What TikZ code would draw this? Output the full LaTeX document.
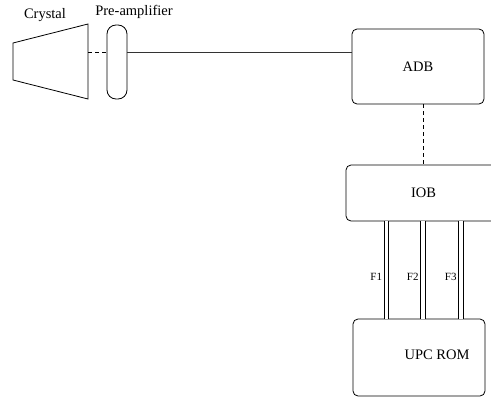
\documentclass[tikz,border=0pt]{standalone}
\usepackage{fontspec}
\setmainfont{Liberation Serif}
\usetikzlibrary{calc}

\begin{document}
\begin{tikzpicture}[x=1pt,y=-1pt,line width=0.8pt,
  box/.style={draw,rounded corners=5pt,inner sep=0pt,font=\fontsize{14.5}{17}\selectfont},
  lbl/.style={font=\fontsize{14.5}{17}\selectfont},
  bus/.style={double,double distance=3.5pt},
  link/.style={dash pattern=on 4pt off 3pt}]
\clip (0,0) rectangle (491,399);
% crystal and pre-amplifier
\draw (13,43) -- (88,24) -- (88,99) -- (13,80) -- cycle;
\coordinate (cr) at (88,52);
\node[draw,rounded corners=9pt,minimum width=20pt,minimum height=74pt,inner sep=0pt] (pre) at (117,62) {};
\node[lbl] (crlbl) at (45,15) {Crystal};
\node[lbl] (prelbl) at (134,12) {Pre-amplifier};
% boxes
\node[box,minimum width=132pt,minimum height=75pt] (adb) at (418,66.5) {ADB};
\node[box,minimum width=155pt,minimum height=56pt] (iob) at (423.5,193) {IOB};
\node[box,minimum width=132pt,minimum height=77pt] (upc) at (419,357.5) {};
\node[lbl] (upclbl) at (437,355) {UPC ROM};
% connections
\draw[link] (cr) -- (cr -| pre.west);
\draw[black!80] (pre.east |- cr) -- (cr -| adb.west);
\draw[link] (adb.south -| 423,0) -- (iob.north -| 423,0);
\foreach \x/\f in {386.5/F1,423/F2,461/F3}
  \draw[bus] (iob.south -| \x,0) -- (upc.north -| \x,0)
    node[pos=0.57,left,inner sep=0pt,xshift=-4pt,font=\fontsize{11}{13}\selectfont] {\f};
\end{tikzpicture}
\end{document}
